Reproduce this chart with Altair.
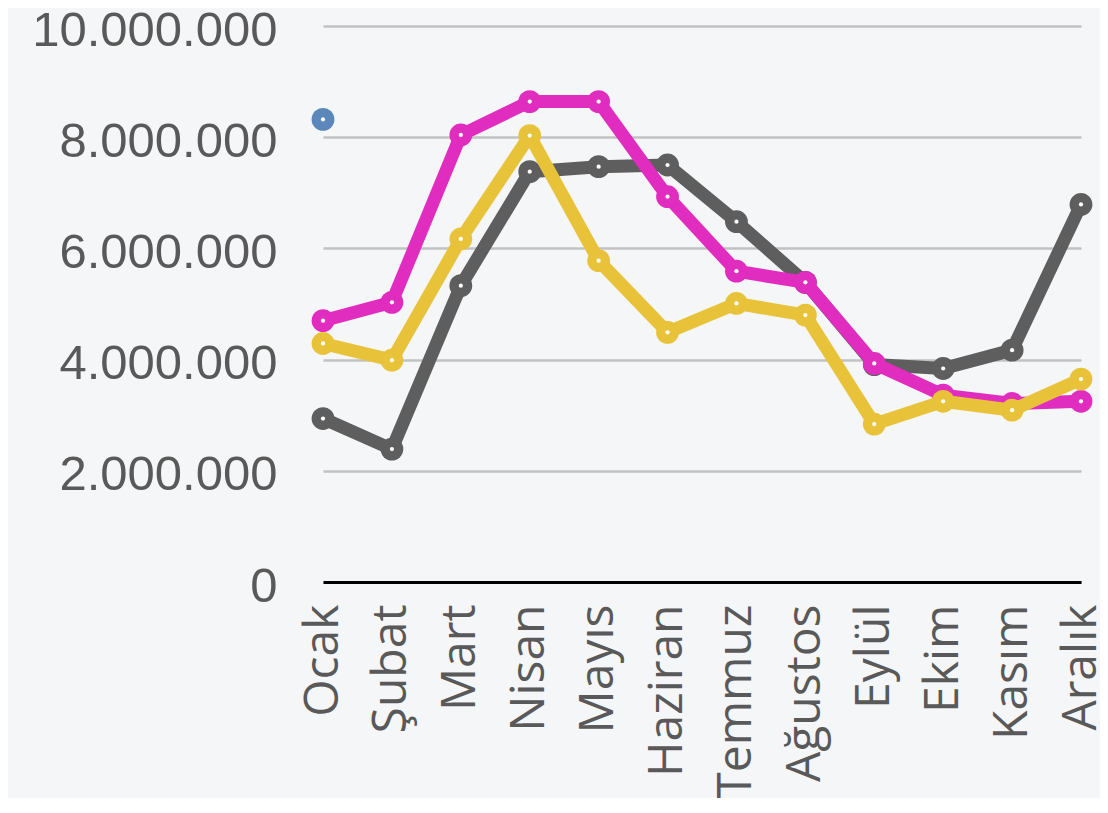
import altair as alt
import pandas as pd

months = ["Ocak", "Şubat", "Mart", "Nisan", "Mayıs", "Haziran",
          "Temmuz", "Ağustos", "Eylül", "Ekim", "Kasım", "Aralık"]

gray_vals = [2940000, 2390000, 5330000, 7380000, 7470000, 7500000,
             6480000, 5390000, 3910000, 3840000, 4170000, 6790000]
magenta_vals = [4700000, 5030000, 8040000, 8640000, 8640000, 6930000,
                5590000, 5390000, 3930000, 3360000, 3210000, 3250000]
yellow_vals = [4290000, 3990000, 6170000, 8030000, 5780000, 4490000,
               5010000, 4800000, 2840000, 3250000, 3090000, 3650000]
blue_months = ["Ocak"]
blue_vals = [8320000]

series = [
    ("Seri 1", months, gray_vals, "#5e5e5e", True),
    ("Seri 2", months, magenta_vals, "#e02cbf", True),
    ("Seri 3", months, yellow_vals, "#e8c33a", True),
    ("Seri 4", blue_months, blue_vals, "#5b87ba", False),
]

rows = []
for name, ms, vals, _, _ in series:
    for m, v in zip(ms, vals):
        rows.append({"seri": name, "ay": m, "deger": v})
df = pd.DataFrame(rows)

x_enc = alt.X(
    "ay:N",
    sort=months,
    scale=alt.Scale(type="point", padding=0, domain=months),
    axis=alt.Axis(
        title=None, labelAngle=270, labelAlign="right", labelBaseline="middle",
        labelFont="Open Sans", labelFontSize=48, labelColor="#595959",
        labelPadding=22, labelLimit=500, labelOverlap=False, labelFlush=False,
        ticks=False, grid=False, domain=True, domainColor="#000000", domainWidth=3,
    ),
)
y_enc = alt.Y(
    "deger:Q",
    scale=alt.Scale(domain=[0, 10000000], nice=False, zero=True),
    axis=alt.Axis(
        title=None, values=[0, 2000000, 4000000, 6000000, 8000000, 10000000],
        labelExpr="replace(replace(replace(format(datum.value, ','), ',', '.'), ',', '.'), ',', '.')",
        labelFont="Liberation Sans", labelFontSize=49, labelColor="#595959",
        labelPadding=46, labelLimit=500, labelOffset=4,
        ticks=False, domain=False, grid=True, gridColor="#c2c2c2", gridWidth=2.5,
    ),
)

base = alt.Chart(df)
layers = []
order = [series[3], series[0], series[1], series[2]]
for name, ms, vals, color, has_line in order:
    b = base.transform_filter(alt.datum.seri == name)
    if has_line:
        layers.append(
            b.mark_line(color=color, strokeWidth=13, strokeCap="round", strokeJoin="round")
            .encode(x=x_enc, y=y_enc)
        )
    layers.append(
        b.mark_circle(color=color, size=520, opacity=1).encode(x=x_enc, y=y_enc)
    )
    layers.append(
        b.mark_circle(color="white", size=18, opacity=1).encode(x=x_enc, y=y_enc)
    )

chart = alt.layer(*layers).properties(
    width=758,
    height=556,
    padding={"left": 315, "top": 18, "right": 19, "bottom": 216},
    autosize=alt.AutoSizeParams(type="none"),
    background="#f5f6f8",
).configure_view(stroke=None)

chart.save("out.html", embed_options={"renderer": "svg", "actions": False})
